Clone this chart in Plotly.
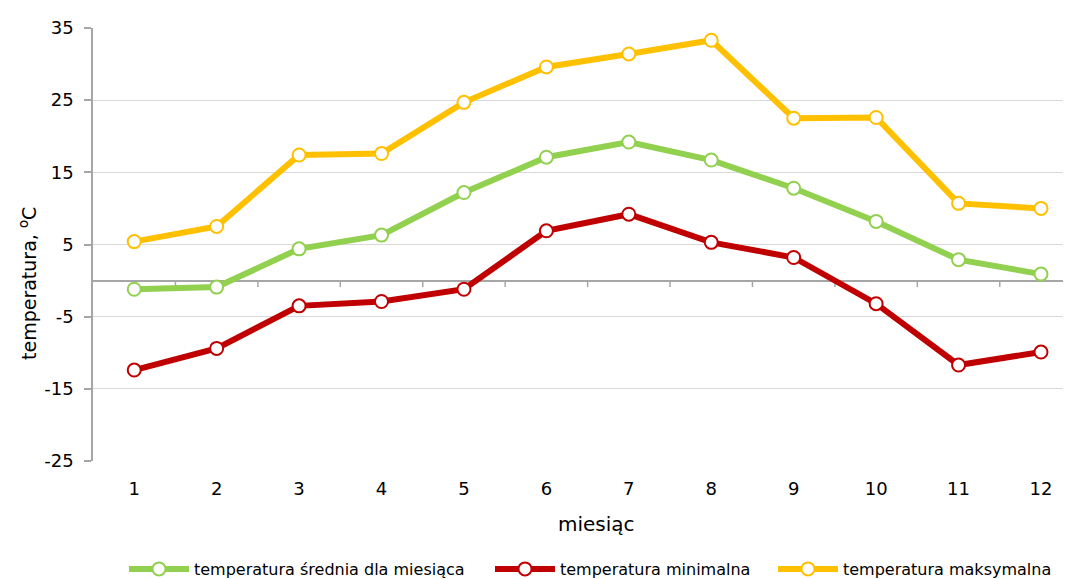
import plotly.graph_objects as go

months = [1, 2, 3, 4, 5, 6, 7, 8, 9, 10, 11, 12]
t_avg = [-1.2, -0.9, 4.4, 6.3, 12.2, 17.1, 19.2, 16.7, 12.8, 8.2, 2.9, 0.9]
t_min = [-12.4, -9.4, -3.5, -2.9, -1.2, 6.9, 9.2, 5.3, 3.2, -3.2, -11.7, -9.9]
t_max = [5.4, 7.5, 17.4, 17.6, 24.7, 29.6, 31.4, 33.3, 22.5, 22.6, 10.7, 10.0]
names = ["temperatura średnia dla miesiąca", "temperatura minimalna", "temperatura maksymalna"]
colors = ["#92D050", "#C00000", "#FFC000"]
y_ticks = [-25, -15, -5, 5, 15, 25, 35]
y_ticktext = ["-25", "-15", "-5", "5", "15", "25", "35"]

FONT = "DejaVu Sans"
W, H = 1071, 579
legend_ids = ["legend", "legend2", "legend3"]
legend_left_px = [116, 482, 765]

fig = go.Figure()
for vals, nm, col, lg in zip([t_avg, t_min, t_max], names, colors, legend_ids):
    fig.add_trace(go.Scatter(
        x=months, y=vals, name=nm, mode="lines+markers", legend=lg,
        line=dict(color=col, width=6),
        marker=dict(size=13, color="white", line=dict(color=col, width=2)),
    ))

# category boundary tick marks on the zero line
for b in [m + 0.5 for m in months[:-1]]:
    fig.add_shape(type="line", xref="x", yref="y", x0=b, x1=b, y0=0, y1=-0.9,
                  line=dict(color="#A6A6A6", width=1.5), layer="below")

leg_common = dict(orientation="h", xanchor="left", yanchor="middle", xref="container", yref="container",
                  y=1 - 561 / H, font=dict(family=FONT, size=16), itemwidth=60,
                  bgcolor="rgba(0,0,0,0)")
legends = {lg: dict(leg_common, x=px / W) for lg, px in zip(legend_ids, legend_left_px)}

fig.update_layout(
    width=W, height=H,
    margin=dict(l=85, r=8, t=20, b=126),
    paper_bgcolor="white", plot_bgcolor="white",
    font=dict(family=FONT, size=16, color="black"),
    showlegend=True,
    **legends,
    xaxis=dict(range=[0.5, 12.364], tickvals=months, ticktext=[str(m) for m in months],
               showgrid=False, zeroline=False, showline=False, ticks="",
               ticklabelstandoff=15, tickfont=dict(size=18)),
    yaxis=dict(range=[-25, 35], tickvals=y_ticks, ticktext=y_ticktext,
               showgrid=True, gridcolor="#D9D9D9", gridwidth=1,
               zeroline=True, zerolinecolor="#A6A6A6", zerolinewidth=1.5,
               showline=True, linecolor="#A6A6A6", linewidth=1.5,
               ticks="outside", ticklen=7, tickcolor="#A6A6A6", tickwidth=1.5,
               ticklabelstandoff=7, tickfont=dict(size=18)),
    annotations=[
        dict(text="temperatura, <sup>o</sup>C", xref="paper", yref="paper", x=-0.0665, y=0.411,
             textangle=-90, showarrow=False, font=dict(size=19), xanchor="center", yanchor="middle"),
        dict(text="miesiąc", xref="paper", yref="paper", x=0.515, y=-0.1455,
             showarrow=False, font=dict(size=20), xanchor="center", yanchor="middle"),
    ],
)

fig.write_html("out.html")
